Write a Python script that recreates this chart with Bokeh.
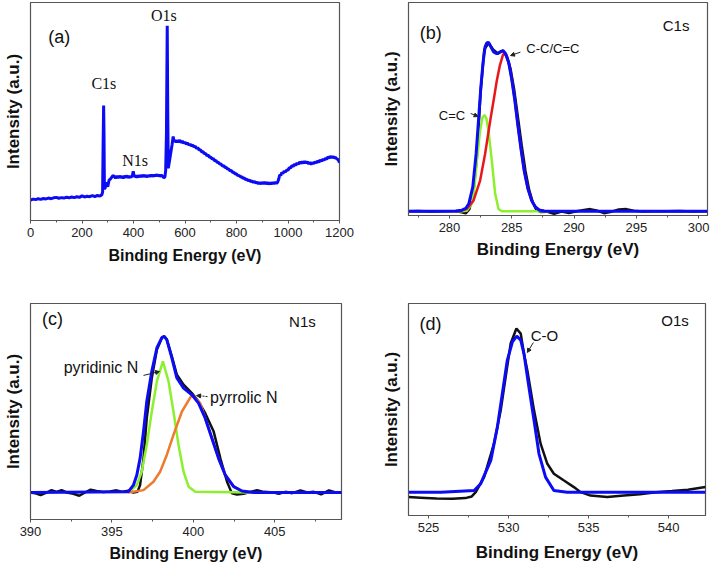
from bokeh.plotting import figure
from bokeh.layouts import column, row
from bokeh.models import Range1d, FixedTicker, SingleIntervalTicker, Label, Arrow, NormalHead
from bokeh.embed import file_html
from bokeh.resources import INLINE

# ---------------- data ----------------
# (a) survey spectrum
survey_energy = [0, 10, 20, 30, 40, 50, 60, 70, 80, 90, 100, 110, 120, 130, 140, 150, 160,
                 170, 180, 190, 200, 210, 220, 230, 240, 250, 260, 270, 277,
                 280, 282, 284, 285.5, 287, 290, 295, 300, 305, 310, 315, 320, 325, 330,
                 335, 340, 345, 350, 355, 360, 365, 370, 375, 380, 385, 390, 395, 399, 403,
                 408, 413, 418, 423, 428, 433, 438, 443, 448, 453, 458, 463, 468, 473, 478,
                 483, 488, 493, 498, 503, 508, 513, 518, 522, 525, 528, 531, 533, 535, 538,
                 542, 546, 550, 554, 558, 562, 566, 570, 575, 580, 585, 590, 595, 600, 605,
                 610, 615, 620, 625, 630, 635, 640, 645, 650, 655, 660, 665, 670, 675, 680,
                 685, 690, 695, 700, 705, 710, 715, 720, 725, 730, 735, 740, 745, 750, 755,
                 760, 765, 770, 775, 780, 785, 790, 795, 800, 805, 810, 815, 820, 825, 830,
                 835, 840, 845, 850, 855, 860, 865, 870, 875, 880, 885, 890, 895, 900, 905,
                 910, 915, 920, 925, 930, 935, 940, 945, 950, 955, 960, 964, 968, 972, 976,
                 980, 985, 990, 995, 1000, 1005, 1010, 1015, 1020, 1025, 1030, 1035, 1040,
                 1045, 1050, 1055, 1060, 1065, 1070, 1075, 1080, 1085, 1090, 1095, 1100,
                 1105, 1110, 1115, 1120, 1125, 1130, 1135, 1140, 1145, 1150, 1155, 1160,
                 1165, 1170, 1175, 1180, 1185, 1190, 1195, 1200]
survey_intensity = [9.3, 9.8, 9.6, 10.0, 9.7, 10.1, 9.9, 10.3, 10.0, 10.4, 10.6, 10.2, 10.5,
                    10.3, 10.7, 10.4, 10.8, 10.5, 10.9, 10.6, 11.3, 10.8, 11.1, 10.9, 11.4,
                    11.0, 11.5, 11.2, 11.8,
                    13.0, 35.0, 52.7, 40.0, 14.5, 15.0, 17.5, 15.5, 18.5, 19.0, 19.8, 20.6,
                    20.2, 19.5, 20.3, 19.6, 20.4, 19.7, 20.2, 19.5, 20.3, 19.8, 20.5, 19.7,
                    20.2, 19.9, 20.4, 22.6, 20.1, 20.5, 19.8, 20.6, 20.0, 20.7, 20.1, 20.8,
                    20.2, 20.6, 20.0, 20.7, 20.2, 20.9, 20.3, 20.8, 20.4, 21.0, 20.5, 20.9,
                    20.3, 20.8, 20.2, 19.6, 20.0, 23.0, 40.0, 89.3, 50.0, 24.0, 26.0, 29.0,
                    32.0, 35.0, 38.5, 36.0, 36.8, 35.9, 36.7, 36.0, 36.9, 35.7, 36.4, 35.5,
                    36.0, 35.0, 35.6, 34.6, 35.0, 34.2, 34.6, 33.7, 34.0, 33.0, 33.4, 32.3,
                    32.5, 31.4, 31.6, 30.6, 30.8, 29.7, 30.0, 29.0, 29.1, 28.2, 28.4, 27.4,
                    27.5, 26.6, 26.7, 25.9, 25.9, 25.0, 25.2, 24.3, 24.4, 23.6, 23.6, 22.8,
                    22.9, 22.0, 22.1, 21.3, 21.4, 20.6, 20.7, 20.0, 20.1, 19.4, 19.5, 18.8,
                    18.9, 18.3, 18.5, 17.9, 18.1, 17.5, 17.9, 17.2, 17.6, 16.9, 17.4, 16.8,
                    17.5, 16.9, 17.6, 16.8, 17.4, 16.7, 17.3, 16.8, 17.4, 16.9, 17.5, 17.0,
                    17.6, 19.0, 21.0, 20.6, 22.0, 21.5, 22.6, 22.2, 23.2, 23.0, 24.2, 24.0,
                    25.2, 24.8, 25.8, 25.3, 26.4, 25.8, 26.8, 26.2, 27.0, 26.3, 27.1, 26.4,
                    26.9, 26.0, 26.6, 25.8, 26.5, 26.1, 26.9, 26.4, 27.3, 26.8, 27.7, 27.2,
                    28.1, 27.6, 28.6, 28.1, 29.2, 28.6, 29.4, 28.8, 29.3, 28.7, 29.0, 28.2,
                    27.9, 26.5]

# (b) C1s
c1s_raw_energy = [276.7, 277.5, 278.5, 279.5, 280.5, 281.0, 281.3, 281.6, 281.9, 282.2,
                  282.5, 282.8, 283.15, 283.5, 283.9, 284.3, 284.6, 284.9, 285.2, 285.5,
                  285.8, 286.1, 286.4, 286.7, 286.95, 287.3, 287.8, 288.4, 289.0, 289.6,
                  290.2, 290.8, 291.3, 291.8, 292.4, 293.0, 293.6, 294.2, 294.8, 295.5,
                  296.5, 297.5, 298.5, 299.5, 300.7]
c1s_raw = [2.0, 2.1, 1.9, 2.0, 2.0, 1.5, 1.0, 3.0, 10.0, 27.0, 58.0, 78.0, 81.0, 78.0,
           76.0, 77.5, 75.0, 69.0, 59.0, 46.0, 33.0, 21.0, 12.0, 6.0, 3.0, 1.6, 1.8, 0.8,
           1.9, 1.2, 2.0, 2.6, 3.0, 2.4, 1.1, 1.8, 2.8, 3.0, 2.2, 1.9, 2.0, 2.0, 2.1, 1.9, 2.0]
c1s_fit_energy = [276.7, 279.5, 280.5, 281.0, 281.3, 281.55, 281.87, 282.14, 282.33, 282.52,
                  282.7, 282.86, 283.0, 283.13, 283.3, 283.55, 283.8, 284.05, 284.3, 284.5,
                  284.75, 285.0, 285.25, 285.5, 285.75, 286.0, 286.3, 286.6, 286.9, 287.2,
                  287.6, 288.5, 300.7]
c1s_fit = [2.0, 2.0, 2.1, 2.5, 3.3, 5.5, 13.3, 28.9, 44.5, 60.2, 72.0, 79.2, 81.0, 81.3,
           79.5, 76.8, 75.9, 76.8, 77.3, 76.0, 72.0, 64.0, 54.0, 42.0, 31.0, 21.0, 12.5,
           7.0, 4.0, 2.6, 2.1, 2.0, 2.0]
cc_energy = [280.5, 281.0, 281.39, 281.93, 282.46, 282.86, 283.27, 283.6, 283.8, 284.05,
             284.3, 284.45, 284.6, 284.8, 285.0, 285.25, 285.5, 285.75, 286.0, 286.3,
             286.6, 286.9, 287.2, 287.6, 288.0]
cc_peak = [2.0, 2.4, 3.1, 7.0, 16.4, 28.9, 44.5, 56.0, 63.3, 70.5, 75.5, 76.0, 74.5, 70.5,
           64.0, 54.0, 42.0, 31.0, 21.0, 12.5, 7.0, 4.0, 2.6, 2.1, 2.0]
ceqc_energy = [280.6, 281.0, 281.39, 281.79, 282.01, 282.2, 282.46, 282.65, 282.81, 282.97,
               283.13, 283.4, 283.67, 283.94, 284.2, 288.0]
ceqc_peak = [2.0, 2.0, 2.2, 5.5, 13.3, 25.8, 39.8, 46.0, 47.2, 45.5, 39.8, 25.8, 10.2,
             3.1, 2.0, 2.0]

# (c) N1s
n1s_raw_energy = [390.0, 390.27, 390.62, 390.99, 391.29, 391.6, 391.91, 392.22, 392.63,
                  393.0, 393.35, 393.69, 394.06, 394.47, 394.88, 395.29, 395.66, 396.01,
                  396.32, 396.57, 396.73, 396.94, 397.14, 397.45, 397.76, 398.07, 398.21,
                  398.37, 398.68, 398.99, 399.4, 399.91, 400.32, 400.73, 401.25, 401.66,
                  402.07, 402.37, 402.68, 403.09, 403.5, 403.91, 404.32, 404.94, 405.25,
                  405.66, 406.07, 406.58, 406.99, 407.4, 407.85, 408.33, 408.74, 409.1]
n1s_raw = [12.5, 12.2, 11.3, 12.5, 13.6, 12.8, 13.6, 12.5, 11.9, 11.0, 12.5, 13.8, 13.2,
           12.7, 13.0, 13.5, 12.8, 13.3, 12.5, 12.8, 15.9, 28.3, 46.9, 65.5, 78.6, 84.1,
           84.8, 83.3, 75.5, 67.0, 62.4, 58.5, 54.6, 49.2, 40.7, 28.3, 17.5, 12.1, 11.6,
           11.9, 12.8, 13.5, 12.8, 12.5, 11.9, 12.8, 12.2, 13.5, 12.5, 12.8, 11.6, 13.5,
           12.5, 12.5]
n1s_fit_energy = [390.0, 396.0, 396.32, 396.53, 396.73, 396.94, 397.14, 397.45, 397.76,
                  398.06, 398.21, 398.37, 398.68, 398.99, 399.4, 399.91, 400.32, 400.73,
                  401.14, 401.55, 401.96, 402.48, 402.99, 403.71, 409.1]
n1s_fit = [12.5, 12.8, 15.9, 20.6, 28.3, 40.7, 54.6, 68.6, 79.4, 84.1, 84.8, 83.3, 74.8,
           65.5, 60.8, 57.7, 53.9, 46.9, 37.6, 28.3, 20.6, 15.2, 13.2, 12.5, 12.5]
pyridinic_energy = [396.0, 396.53, 396.83, 397.14, 397.45, 397.76, 398.13, 398.48, 398.78,
                    399.09, 399.4, 399.71, 400.12, 403.7]
pyridinic_peak = [12.5, 15.9, 22.1, 34.5, 50.0, 63.9, 73.2, 63.9, 50.0, 34.5, 22.1, 15.2,
                  12.8, 12.5]
pyrrolic_energy = [396.0, 396.94, 397.55, 397.96, 398.37, 398.78, 399.3, 399.91, 400.42,
                   400.73, 401.14, 401.55, 401.96, 402.48, 402.99, 403.5]
pyrrolic_peak = [12.5, 13.6, 17.5, 22.1, 29.9, 39.2, 50.0, 57.7, 53.9, 46.9, 37.6, 28.3,
                 20.6, 15.2, 13.2, 12.5]

# (d) O1s
o1s_raw_energy = [523.75, 524.5, 525.5, 526.5, 527.3, 527.7, 527.95, 528.47, 529.09,
                  529.51, 529.82, 530.13, 530.49, 530.76, 530.96, 531.17, 531.59, 532.0,
                  532.42, 532.83, 533.46, 534.08, 534.5, 535.12, 536.16, 537.2, 538.2,
                  539.2, 540.2, 541.2, 542.3]
o1s_raw = [8.7, 8.4, 8.0, 7.9, 8.2, 9.0, 11.0, 18.1, 33.9, 49.6, 65.4, 81.1, 88.2, 85.8,
           76.4, 68.5, 49.6, 33.9, 24.4, 19.7, 16.5, 13.4, 11.0, 9.4, 8.7, 9.4, 10.0,
           11.0, 11.5, 12.1, 13.4]
o1s_fit_energy = [523.75, 525.77, 527.85, 528.26, 528.89, 529.3, 529.61, 529.92, 530.24,
                  530.51, 530.76, 530.96, 531.27, 531.59, 531.9, 532.31, 532.83, 533.66,
                  542.3]
o1s_fit = [11.0, 11.0, 11.8, 15.0, 26.0, 41.7, 57.5, 73.2, 81.9, 84.6, 82.7, 76.4, 60.6,
           44.9, 29.1, 18.1, 11.8, 11.0, 11.0]

x_ticks_interval = [200, 5, 5, 5]
axis_title_x = "Binding Energy (eV)"
axis_title_y = "Intensity (a.u.)"

BLUE = "#0b0bf5"
BLACK = "#111111"
GREEN = "#8cf02e"
RED = "#e8171b"
ORANGE = "#ef7a2e"
FRAME = "#555555"
SANS = "Liberation Sans"
SERIF = "Liberation Serif"


def make_panel(xr, interval, fw, fh, left, right, top, bottom, title_size, title_standoff):
    p = figure(frame_width=fw, frame_height=fh, output_backend="svg", toolbar_location=None,
               x_range=Range1d(*xr), y_range=Range1d(0, 100),
               min_border_left=left, min_border_right=right,
               min_border_top=top, min_border_bottom=bottom,
               background_fill_color="white", border_fill_color="white")
    p.title.visible = False
    p.xgrid.visible = False
    p.ygrid.visible = False
    p.outline_line_color = FRAME
    p.outline_line_width = 1.2
    xa = p.xaxis[0]
    xa.ticker = SingleIntervalTicker(interval=interval, num_minor_ticks=2)
    xa.axis_line_color = FRAME
    xa.major_tick_line_color = FRAME
    xa.minor_tick_line_color = FRAME
    xa.major_tick_out = 3
    xa.major_tick_in = 0
    xa.minor_tick_out = 2
    xa.minor_tick_in = 0
    xa.major_label_standoff = 4
    xa.major_label_text_font = SANS
    xa.major_label_text_font_size = "13px"
    xa.major_label_text_color = "#222222"
    xa.axis_label = axis_title_x
    xa.axis_label_text_font = SANS
    xa.axis_label_text_font_style = "bold"
    xa.axis_label_text_font_size = title_size
    xa.axis_label_text_color = "#111111"
    xa.axis_label_standoff = title_standoff
    ya = p.yaxis[0]
    ya.ticker = FixedTicker(ticks=[])
    ya.axis_line_color = FRAME
    ya.major_tick_out = 0
    ya.major_tick_in = 0
    ya.minor_tick_out = 0
    ya.minor_tick_in = 0
    ya.major_label_standoff = 0
    ya.axis_label = axis_title_y
    ya.axis_label_text_font = SANS
    ya.axis_label_text_font_style = "bold"
    ya.axis_label_text_font_size = "17px"
    ya.axis_label_text_color = "#111111"
    ya.axis_label_standoff = 8
    return p


def label(p, x, y, text, size, font=SANS):
    p.add_layout(Label(x=x, y=y, text=text, text_font=font, text_font_size=size,
                       text_align="center", text_baseline="middle", text_color="#111111"))


def arrow(p, x0, y0, x1, y1, dash="solid"):
    p.add_layout(Arrow(end=NormalHead(size=4, fill_color="#222222", line_color="#222222"),
                       x_start=x0, y_start=y0, x_end=x1, y_end=y1,
                       line_color="#222222", line_width=1, line_dash=dash))


# (a)
pa = make_panel((0, 1200), x_ticks_interval[0], 309, 218, 30, 16, 2, 50, "16px", 7)
pa.line(survey_energy, survey_intensity, line_color=BLUE, line_width=3)
label(pa, 112, 84.4, "(a)", "18px")
label(pa, 285, 62.8, "C1s", "16px", SERIF)
label(pa, 406, 27.5, "N1s", "16px", SERIF)
label(pa, 518, 94.0, "O1s", "16px", SERIF)

# (b)
pb = make_panel((276.71, 300.72), x_ticks_interval[1], 299, 213, 53, 3, 2, 55, "17px", 5)
pb.line(c1s_raw_energy, c1s_raw, line_color=BLACK, line_width=2.5)
pb.line(ceqc_energy, ceqc_peak, line_color=GREEN, line_width=2.5)
pb.line(cc_energy, cc_peak, line_color=RED, line_width=2.5)
pb.line(c1s_fit_energy, c1s_fit, line_color=BLUE, line_width=3)
label(pb, 278.5, 85.9, "(b)", "18px")
label(pb, 298.2, 89.2, "C1s", "15px")
label(pb, 288.3, 78.4, "C-C/C=C", "13px")
label(pb, 280.2, 46.9, "C=C", "13px")
arrow(pb, 285.7, 76.7, 284.9, 75.1)
arrow(pb, 281.7, 47.9, 282.3, 46.5)

# (c)
pc = make_panel((390, 409.1), x_ticks_interval[2], 311, 216, 30, 14, 32, 48, "16px", 6)
pc.line(n1s_raw_energy, n1s_raw, line_color=BLACK, line_width=2.5)
pc.line(pyridinic_energy, pyridinic_peak, line_color=GREEN, line_width=2.5)
pc.line(pyrrolic_energy, pyrrolic_peak, line_color=ORANGE, line_width=2.5)
pc.line(n1s_fit_energy, n1s_fit, line_color=BLUE, line_width=3)
label(pc, 391.35, 92.6, "(c)", "18px")
label(pc, 406.7, 91.7, "N1s", "15px")
label(pc, 394.33, 70.4, "pyridinic N", "16px")
label(pc, 403.1, 56.3, "pyrrolic N", "16px")
arrow(pc, 396.94, 66.7, 397.92, 68.5)
arrow(pc, 400.87, 56.9, 400.2, 57.4, "2 1")

# (d)
pd = make_panel((523.75, 542.3), x_ticks_interval[3], 297, 212, 53, 5, 33, 51, "17px", 8)
pd.line(o1s_raw_energy, o1s_raw, line_color=BLACK, line_width=2.5)
pd.line(o1s_fit_energy, o1s_fit, line_color=BLUE, line_width=3)
label(pd, 525.12, 90.1, "(d)", "18px")
label(pd, 540.4, 92.0, "O1s", "15px")
label(pd, 532.24, 84.9, "C-O", "15px")
arrow(pd, 531.55, 81.6, 531.17, 76.9)

layout = column(row(pa, pb, spacing=0), row(pc, pd, spacing=0), spacing=0)
open("out.html", "w").write(file_html(layout, INLINE))
